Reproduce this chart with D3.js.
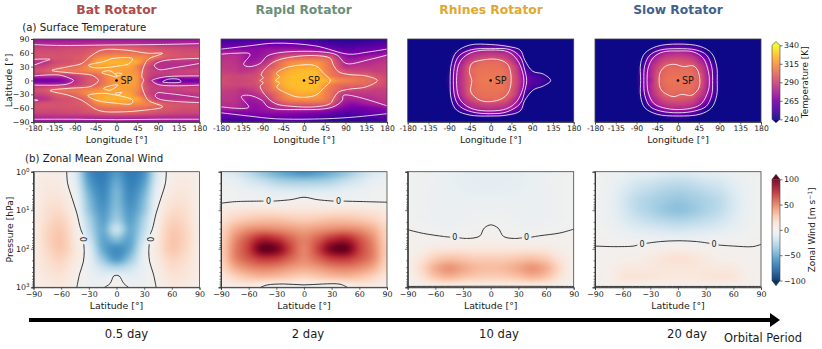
<!DOCTYPE html>
<html>
<head>
<meta charset="utf-8">
<script src="https://cdn.jsdelivr.net/npm/d3@7"></script>
<style>
  body { margin: 0; background: #fff; }
  text { font-family: "DejaVu Sans", sans-serif; fill: #1a1a1a; }
</style>
</head>
<body>
<script>
const titles = ['Bat Rotator', 'Rapid Rotator', 'Rhines Rotator', 'Slow Rotator'];
const titleColors = ['#b04a48', '#6a8f79', '#dfa82f', '#41628c'];
const titleCenters = [116.5, 303.7, 491, 678];
const periods = ['0.5 day', '2 day', '10 day', '20 day'];
const periodCenters = [126.5, 308, 499, 687];
const lonTicks = [-180, -135, -90, -45, 0, 45, 90, 135, 180];
const latTicks = [-90, -60, -30, 0, 30, 60, 90];
const tempTicks = [240, 265, 290, 315, 340];
const windTicks = [-100, -50, 0, 50, 100];

// surface temperature [K], rows are latitude 0,10..90, columns longitude -180,-165..180
const batTemp = [
  [262,262,262,264,267,274,283,290,296,298,305,312,316,318,318,315,296,283,270,260,257,258,262,262,262],
  [283,283,283,283,283,284,288,293,297,300,307,314,317,318,318,314,297,288,284,283,283,283,283,283,283],
  [293,294,297,301,304,305,306,308,310,312,316,319,319,318,316,312,298,289,287,286,287,288,289,290,291],
  [288,289,292,296,299,300,302,307,313,318,319,320,320,320,319,310,298,289,283,282,282,283,283,284,286],
  [283,283,285,291,293,294,296,299,306,318,322,323,323,323,322,320,308,296,284,283,283,283,283,283,284],
  [292,293,294,294,294,295,296,298,302,310,314,316,316,315,314,313,311,307,303,297,295,294,293,293,293],
  [293,293,293,293,293,294,294,295,298,301,303,304,305,305,305,304,302,300,299,296,295,294,293,293,293],
  [289,289,289,289,290,291,291,292,293,295,297,298,299,299,299,298,296,295,293,292,291,290,289,289,289],
  [280,280,280,281,281,281,281,281,281,282,282,282,282,282,282,282,281,281,281,280,280,280,280,280,280],
  [272,272,272,272,272,272,272,272,273,273,273,273,273,273,273,273,273,272,272,272,272,272,272,272,272]
];
const rapidTemp = [
  [292,291,290,290,291,294,301,305,318,322,325,326,326,326,325,323,318,312,309,307,305,303,301,295,292],
  [291,291,290,290,291,292,298,303,315,321,325,326,326,326,324,316,308,303,301,301,300,300,296,293,291],
  [288,287,286,283,285,288,295,301,309,317,322,324,325,325,323,312,305,300,293,291,290,290,288,288,288],
  [286,285,284,282,280,282,288,295,302,310,317,320,320,320,318,310,303,292,283,283,284,284,285,286,286],
  [284,284,283,279,274,276,280,288,299,306,311,313,314,314,313,308,301,289,278,278,279,280,281,283,284],
  [282,282,282,278,272,272,275,279,287,295,299,300,301,301,301,300,295,281,273,270,272,275,277,279,281],
  [277,278,278,276,272,270,272,275,278,281,282,283,283,283,282,279,276,270,265,263,263,264,266,268,272],
  [264,265,266,266,267,268,269,270,270,270,270,269,268,267,266,264,261,257,255,256,258,259,260,261,263],
  [256,256,257,257,258,258,259,260,260,260,260,259,258,256,255,253,251,250,249,249,250,251,252,254,255],
  [250,250,250,250,251,251,252,253,254,254,254,253,252,250,249,247,245,245,245,245,245,246,247,248,250]
];
const rhinesTemp = [
  [240,240,240,240,240,240,246,274,286,299,305,307,307,307,305,298,286,268,256,253,248,241,240,240,240],
  [240,240,240,240,240,240,245,273,286,298,304,306,306,306,304,298,285,264,254,250,243,240,240,240,240],
  [240,240,240,240,240,240,244,272,285,300,304,305,305,305,304,296,283,258,246,241,240,240,240,240,240],
  [240,240,240,240,240,240,243,270,284,297,302,304,304,304,301,295,280,250,240,240,240,240,240,240,240],
  [240,240,240,240,240,240,241,262,279,290,298,301,302,302,298,288,272,245,240,240,240,240,240,240,240],
  [240,240,240,240,240,240,240,253,273,283,288,291,292,291,288,281,270,241,240,240,240,240,240,240,240],
  [240,240,240,240,240,240,240,246,260,276,280,282,283,282,280,275,260,240,240,240,240,240,240,240,240],
  [240,240,240,240,240,240,240,240,242,252,263,268,270,268,262,254,242,240,240,240,240,240,240,240,240],
  [240,240,240,240,240,240,240,240,240,240,241,243,244,243,241,240,240,240,240,240,240,240,240,240,240],
  [240,240,240,240,240,240,240,240,240,240,240,240,240,240,240,240,240,240,240,240,240,240,240,240,240]
];
const slowTemp = [
  [240,240,240,240,240,240,241,263,276,295,303,305,305,305,303,298,283,265,243,240,240,240,240,240,240],
  [240,240,240,240,240,240,241,262,279,294,302,304,304,304,303,298,282,263,242,240,240,240,240,240,240],
  [240,240,240,240,240,240,240,261,278,292,300,303,303,303,302,294,280,262,241,240,240,240,240,240,240],
  [240,240,240,240,240,240,240,253,277,289,299,301,300,300,300,290,278,258,240,240,240,240,240,240,240],
  [240,240,240,240,240,240,240,247,273,283,292,295,296,295,292,283,272,250,240,240,240,240,240,240,240],
  [240,240,240,240,240,240,240,241,267,278,285,288,289,288,285,277,262,241,240,240,240,240,240,240,240],
  [240,240,240,240,240,240,240,240,247,265,276,279,280,279,275,262,246,240,240,240,240,240,240,240,240],
  [240,240,240,240,240,240,240,240,241,250,258,263,265,263,258,251,241,240,240,240,240,240,240,240,240],
  [240,240,240,240,240,240,240,240,240,240,242,246,248,246,242,240,240,240,240,240,240,240,240,240,240],
  [240,240,240,240,240,240,240,240,240,240,240,240,240,240,240,240,240,240,240,240,240,240,240,240,240]
];

// zonal wind [m/s], rows are log10(p) 0,0.25..3, columns |latitude| 0,15..90
const batWind = [
  [-58,-70,-60,-14,3,6,2],
  [-52,-68,-55,-11,5,8,3],
  [-47,-65,-48,-6,8,10,3],
  [-45,-62,-42,-2,12,12,4],
  [-42,-58,-38,1,16,15,5],
  [-35,-54,-30,5,21,17,6],
  [-22,-50,-25,8,25,20,6],
  [-42,-52,-18,10,27,21,7],
  [-62,-50,-10,12,26,19,6],
  [-58,-38,-7,9,21,16,6],
  [-28,-20,-6,6,16,13,6],
  [-3,-8,-4,4,12,10,5],
  [2,-3,-3,1,9,7,3]
];
const rapidWind = [
  [-60,-55,-48,-38,-25,-15,-10],
  [-35,-34,-30,-22,-15,-8,-4],
  [-14,-13,-12,-8,-6,-3,-2],
  [1,0,-1,-1,-1,-1,0],
  [12,12,13,14,13,11,7],
  [25,27,30,30,27,22,13],
  [40,44,48,50,46,36,20],
  [50,60,75,80,64,46,22],
  [50,68,95,100,70,50,24],
  [48,58,70,72,62,48,22],
  [38,42,48,50,46,36,18],
  [20,24,28,30,27,20,9],
  [-4,-4,-4,-1,6,5,3]
];
const rhinesWind = [
  [-10,-10,-8,-6,-5,-3,-2],
  [-10,-9,-8,-6,-4,-3,-2],
  [-8,-8,-7,-6,-5,-3,-2],
  [-5,-5,-6,-6,-5,-3,-2],
  [-4,-4,-5,-6,-5,-3,-2],
  [-2,-3,-4,-5,-4,-3,-2],
  [0,-1,-2,-3,-2,-1,0],
  [3,2,2,1,1,1,1],
  [10,10,11,11,10,4,2],
  [24,24,27,29,24,12,3],
  [30,32,38,44,36,18,3],
  [22,23,27,32,26,12,2],
  [2,2,2,2,2,1,0]
];
const slowWind = [
  [-15,-13,-10,-8,-5,-3,-1],
  [-24,-22,-18,-15,-9,-4,-2],
  [-32,-30,-26,-21,-13,-5,-2],
  [-38,-35,-31,-26,-16,-6,-2],
  [-40,-37,-31,-25,-15,-6,-2],
  [-30,-28,-24,-19,-12,-5,-2],
  [-18,-16,-14,-11,-7,-3,-1],
  [-5,-5,-4,-3,-2,-1,0],
  [5,4,2,1,1,0,0],
  [14,12,8,4,3,1,1],
  [11,11,10,9,8,3,1],
  [9,9,11,12,11,4,2],
  [0,0,0,0,0,0,0]
];

// white temperature contours, [lon, lat]
const batOpen = [
  [[-180,78],[-126,76],[-17,77],[91,78],[180,80]],
  [[-180,-84],[-90,-84],[0,-85],[90,-84],[180,-84]],
  [[-180,46],[-144,46],[-158,41],[-180,33]],
  [[-180,-41],[-170,-43],[-180,-44]],
  [[-180,10],[-126,12],[-104,6],[-93,0],[-104,-7],[-126,-10],[-180,-10]],
  [[180,48],[98,42],[82,33],[91,24],[127,28],[180,37]],
  [[180,-37],[110,-28],[88,-27],[84,-34],[95,-41],[180,-48]],
  [[180,10],[106,8],[80,2],[77,0],[91,-9],[180,-10]]
];
const batClosed = [
  [[-140,22],[-104,30],[-75,37],[-57,52],[-32,66],[19,66],[69,59],[100,59],[69,46],[59,30],[55,8],[59,1],[55,-9],[59,-25],[69,-43],[100,-57],[55,-65],[12,-68],[-39,-65],[-75,-43],[-104,-32],[-144,-22],[-104,-17],[-61,-14],[-50,-10],[-39,0],[-50,10],[-61,13],[-104,17]],
  [[-61,33],[-28,41],[-7,48],[35,47],[26,36],[8,32],[-25,28],[-50,28]],
  [[-32,17],[-14,21],[1,8],[-17,12]],
  [[-3,15],[12,15],[4,10]],
  [[-62,-33],[-39,-28],[-10,-30],[35,-43],[33,-50],[-3,-49],[-43,-43]],
  [[-28,-17],[-7,-10],[3,-10],[-14,-21]],
  [[-3,-28],[12,-26],[1,-32]],
  [[100,-3],[113,3],[136,2],[140,-3]]
];
const rapidOpen = [
  [[-180,68],[-120,75],[-62,81],[25,75],[97,57],[134,61],[180,68]],
  [[-180,-70],[-120,-77],[-62,-83],[46,-83],[112,-79],[180,-72]],
  [[-180,57],[-150,59],[-117,57],[-131,35],[-120,30],[-95,37],[-80,53],[-48,61],[39,62],[72,55],[86,40],[97,36],[140,45],[180,55]],
  [[-180,-57],[-120,-58],[-136,-35],[-120,-32],[-91,-43],[-77,-58],[-12,-63],[61,-58],[83,-43],[86,-32],[180,-55]]
];
const rapidClosed = [
  [[-95,0],[-88,6],[-93,12],[-84,26],[-62,42],[-26,51],[25,54],[57,48],[64,33],[75,19],[97,13],[134,10],[159,0],[134,-14],[97,-19],[75,-25],[64,-39],[57,-50],[25,-57],[-26,-56],[-62,-50],[-84,-32],[-95,-12],[-88,-5]],
  [[-62,0],[-53,8],[-60,15],[-44,26],[-12,33],[25,32],[43,15],[57,0],[43,-16],[25,-32],[-12,-36],[-41,-26],[-59,-14],[-53,-5]]
];
const rhinesClosed = [
  [[-88,0],[-85,37],[-74,62],[-45,77],[0,78],[42,73],[64,66],[74,44],[91,20],[114,14],[130,0],[114,-12],[93,-20],[74,-43],[64,-66],[35,-75],[0,-77],[-45,-75],[-74,-64],[-85,-43]],
  [[-81,0],[-77,37],[-67,55],[-41,67],[0,69],[42,67],[64,51],[74,22],[78,0],[74,-22],[64,-50],[35,-68],[0,-72],[-41,-68],[-67,-56],[-77,-39]],
  [[-74,0],[-70,33],[-59,50],[-38,62],[0,66],[38,62],[58,44],[69,19],[72,0],[69,-20],[56,-46],[35,-61],[0,-66],[-38,-62],[-59,-50],[-70,-34]],
  [[-41,0],[-46,19],[-41,37],[-20,44],[13,46],[35,37],[43,19],[42,-17],[31,-35],[6,-45],[-23,-43],[-43,-25]]
];
const slowClosed = [
  [[-81,0],[-81,37],[-72,59],[-46,74],[0,79],[48,74],[73,59],[84,30],[85,0],[84,-32],[73,-59],[48,-73],[0,-77],[-46,-73],[-72,-59],[-81,-35]],
  [[-74,0],[-72,33],[-61,55],[-39,66],[0,69],[40,66],[62,55],[73,30],[75,0],[73,-32],[61,-56],[37,-66],[0,-70],[-39,-66],[-61,-56],[-72,-32]],
  [[-67,0],[-64,30],[-52,51],[-32,62],[0,64],[33,62],[55,48],[66,19],[68,0],[66,-21],[51,-50],[33,-59],[0,-63],[-32,-59],[-52,-50],[-64,-28]],
  [[-41,0],[-38,19],[-25,32],[-7,35],[12,30],[33,32],[44,19],[46,-14],[30,-32],[8,-30],[-10,-35],[-32,-25],[-39,-15]]
];

// zero wind contours, [lat, p], split where the label sits
const batZero = [
  [[-54,1],[-53,2],[-48,5],[-43,12],[-39,30],[-36.5,42]],
  [[-35.5,76],[-35,120],[-36,220],[-40,450],[-43,1000]],
  [[54,1],[53,2],[48,5],[43,12],[39,30],[36.5,42]],
  [[35.5,76],[35,120],[36,220],[40,450],[43,1000]],
  [[-13,1000],[-7,800],[-3,510],[0,490],[3,510],[8,800],[13,1000]]
];
const rapidZero = [
  [[-90,6.6],[-75,6],[-44,5.8]],
  [[-33,5.8],[-14,5.3],[0,4.6],[14,5.3],[32,5.8]],
  [[43,5.8],[68,6],[90,6.2]],
  [[-47,1000],[-40,870],[-22,820],[0,866],[21,820],[39,830],[47,1000]]
];
const rhinesZero = [
  [[-90,32],[-73,40],[-51,48],[-44,50]],
  [[-34,52],[-25,54],[-12,47],[-7,29],[0,24],[8,29],[14,48],[26,54],[34,52]],
  [[44,50],[53,46],[75,39],[90,31]],
  [[-90,950],[0,940],[90,950]]
];
const slowZero = [
  [[-90,85],[-70,88],[-48,85],[-44,80]],
  [[-34,72],[-19,65],[0,62],[20,65],[34,72]],
  [[44,80],[60,85],[81,88],[90,77]],
  [[-90,950],[0,950],[90,950]]
];
const zeroLabels = [
  [[-36,57,90],[36,57,90]],
  [[-38.5,5.8,0],[37.5,5.8,0]],
  [[-39,50,0],[39,50,0]],
  [[-39,75,0],[39,75,0]]
];

const temps = [batTemp, rapidTemp, rhinesTemp, slowTemp];
const winds = [batWind, rapidWind, rhinesWind, slowWind];
const openLines = [batOpen, rapidOpen, [], []];
const closedLines = [batClosed, rapidClosed, rhinesClosed, slowClosed];
const zeroLines = [batZero, rapidZero, rhinesZero, slowZero];

const width = 822, height = 349;
const panelLeft = [33.5, 221, 407.7, 595];
const panelW = 166;
const top1 = 39, bot1 = 122, top2 = 171.7, bot2 = 287.3;

const svg = d3.select('body').append('svg')
    .attr('width', width)
    .attr('height', height)
    .style('display', 'block');

const tempColor = d3.scaleSequential(d3.interpolatePlasma).domain([240, 340]).clamp(true);
const windColor = d3.scaleSequential(t => d3.interpolateRdBu(1 - t)).domain([-100, 100]).clamp(true);

function cubic(a, b, c, d, t) {
  return b + 0.5 * t * (c - a + t * (2 * a - 5 * b + 4 * c - d + t * (3 * (b - c) + d - a)));
}

// sample the coarse table for shading, the way imshow does with a bicubic filter
function sample(grid, gx, gy) {
  const nx = grid[0].length - 1, ny = grid.length - 1;
  const ix = Math.floor(gx), iy = Math.floor(gy);
  const col = i => Math.max(0, Math.min(nx, Math.abs(i)));
  const row = i => Math.max(0, Math.min(ny, Math.abs(i)));
  const rows = [-1, 0, 1, 2].map(j => {
    const r = grid[row(iy + j)];
    return cubic(r[col(ix - 1)], r[col(ix)], r[col(ix + 1)], r[col(ix + 2)], gx - ix);
  });
  return cubic(rows[0], rows[1], rows[2], rows[3], gy - iy);
}

function shade(g, w, h, color, valueAt) {
  const canvas = document.createElement('canvas');
  canvas.width = Math.round(w * 2);
  canvas.height = Math.round(h * 2);
  const ctx = canvas.getContext('2d');
  for (let i = 0; i < canvas.width; i++) {
    for (let j = 0; j < canvas.height; j++) {
      ctx.fillStyle = color(valueAt((i + 0.5) / 2, (j + 0.5) / 2));
      ctx.fillRect(i, j, 1, 1);
    }
  }
  g.append('image')
      .attr('width', w)
      .attr('height', h)
      .attr('preserveAspectRatio', 'none')
      .attr('href', canvas.toDataURL());
}

function styleAxis(sel, size) {
  sel.selectAll('text').attr('font-size', size || 7.9).style('fill', '#1a1a1a');
  sel.selectAll('line').attr('stroke', '#333').attr('stroke-width', 0.7);
  sel.selectAll('path').attr('stroke', '#333').attr('stroke-width', 0.8);
}

const fmtMinus = d => String(d).replace('-', '\u2212');

// (a) surface temperature row
temps.forEach((grid, i) => {
  const w = panelW, h = bot1 - top1;
  const g = svg.append('g').attr('transform', `translate(${panelLeft[i]},${top1})`);
  const x = d3.scaleLinear().domain([-180, 180]).range([0, w]);
  const y = d3.scaleLinear().domain([90, -90]).range([0, h]);

  shade(g, w, h, tempColor, (px, py) =>
    sample(grid, (x.invert(px) + 180) / 15, Math.abs(y.invert(py)) / 10));

  const open = d3.line().x(d => x(d[0])).y(d => y(d[1])).curve(d3.curveCatmullRom.alpha(0.5));
  const closed = d3.line().x(d => x(d[0])).y(d => y(d[1])).curve(d3.curveCatmullRomClosed.alpha(0.5));
  const lines = g.append('g').attr('fill', 'none').attr('stroke', '#fff')
      .attr('stroke-width', 1).attr('stroke-opacity', 0.8);
  lines.selectAll('.o').data(openLines[i]).enter().append('path').attr('class', 'o').attr('d', open);
  lines.selectAll('.c').data(closedLines[i]).enter().append('path').attr('class', 'c').attr('d', closed);

  g.append('circle').attr('cx', x(0)).attr('cy', y(0)).attr('r', 1.3).attr('fill', '#000');
  g.append('text').attr('x', x(0) + 4).attr('y', y(0) + 3.4).attr('font-size', 9.6).text('SP');

  g.append('rect').attr('width', w).attr('height', h).attr('fill', 'none')
      .attr('stroke', '#444').attr('stroke-width', 0.8);

  const ax = g.append('g').attr('transform', `translate(0,${h})`)
      .call(d3.axisBottom(x).tickValues(lonTicks).tickSize(2.5).tickPadding(1.5).tickFormat(d => d));
  styleAxis(ax, 7.6);
  g.append('text').attr('x', w / 2).attr('y', h + 21).attr('text-anchor', 'middle')
      .attr('font-size', 9.4).text('Longitude [\u00b0]');

  if (i === 0) {
    const ay = g.append('g')
        .call(d3.axisLeft(y).tickValues(latTicks).tickSize(2.5).tickPadding(1.5).tickFormat(fmtMinus));
    styleAxis(ay);
    g.append('text').attr('transform', `translate(-21.5,${h / 2}) rotate(-90)`)
        .attr('text-anchor', 'middle').attr('font-size', 9.4).text('Latitude [\u00b0]');
  }
});

// (b) zonal mean zonal wind row
winds.forEach((grid, i) => {
  const w = panelW, h = bot2 - top2;
  const g = svg.append('g').attr('transform', `translate(${panelLeft[i]},${top2})`);
  const x = d3.scaleLinear().domain([-90, 90]).range([0, w]);
  const y = d3.scaleLog().domain([1, 1000]).range([0, h]);

  shade(g, w, h, windColor, (px, py) =>
    sample(grid, Math.abs(x.invert(px)) / 15, Math.log10(y.invert(py)) / 0.25));

  const line = d3.line().x(d => x(d[0])).y(d => y(d[1])).curve(d3.curveCatmullRom.alpha(0.5));
  g.append('g').attr('fill', 'none').attr('stroke', '#222').attr('stroke-width', 0.9)
      .selectAll('path').data(zeroLines[i]).enter().append('path').attr('d', line);

  g.selectAll('.zero').data(zeroLabels[i]).enter().append('text')
      .attr('class', 'zero')
      .attr('transform', d => `translate(${x(d[0])},${y(d[1])}) rotate(${d[2]})`)
      .attr('text-anchor', 'middle').attr('dy', '0.36em')
      .attr('font-size', 8).text('0');

  g.append('rect').attr('width', w).attr('height', h).attr('fill', 'none')
      .attr('stroke', '#444').attr('stroke-width', 0.8);

  const ax = g.append('g').attr('transform', `translate(0,${h})`)
      .call(d3.axisBottom(x).tickValues(latTicks).tickSize(2.5).tickPadding(1.5).tickFormat(fmtMinus));
  styleAxis(ax);
  g.append('text').attr('x', w / 2).attr('y', h + 21.5).attr('text-anchor', 'middle')
      .attr('font-size', 9.4).text('Latitude [\u00b0]');

  // log axis, minor ticks on all panels, labels only on the first
  const minor = d3.range(0, 3).flatMap(k => d3.range(2, 10).map(m => m * Math.pow(10, k)));
  const ay = g.append('g').call(d3.axisLeft(y).tickValues([1, 10, 100, 1000]).tickSize(2.5).tickPadding(1.5).tickFormat(''));
  styleAxis(ay);
  const am = g.append('g').call(d3.axisLeft(y).tickValues(minor).tickSize(1.4).tickFormat(''));
  styleAxis(am);

  if (i === 0) {
    [0, 1, 2, 3].forEach(k => {
      const t = g.append('text').attr('x', -4).attr('y', y(Math.pow(10, k)) + 3)
          .attr('text-anchor', 'end').attr('font-size', 7.9);
      t.append('tspan').text('10');
      t.append('tspan').attr('dy', -3).attr('font-size', 5.6).text(k);
    });
    g.append('text').attr('transform', `translate(-20.5,${h / 2}) rotate(-90)`)
        .attr('text-anchor', 'middle').attr('font-size', 9.2).text('Pressure [hPa]');
  }
});

// colorbars
function colorbar(color, domain, ticks, yTop, yBot, tipTop, tipBot, label, labelX, fmt) {
  const x0 = 772, barW = 8;
  const y = d3.scaleLinear().domain(domain).range([yBot, yTop]);
  const g = svg.append('g');
  g.selectAll('.s').data(d3.range(yTop, yBot, 0.5)).enter().append('rect')
      .attr('class', 's').attr('x', x0).attr('y', d => d).attr('width', barW).attr('height', 0.8)
      .attr('fill', d => color(y.invert(d + 0.25)));
  g.append('path').attr('d', `M${x0},${yTop}L${x0 + barW / 2},${tipTop}L${x0 + barW},${yTop}Z`)
      .attr('fill', color(domain[1]));
  g.append('path').attr('d', `M${x0},${yBot}L${x0 + barW / 2},${tipBot}L${x0 + barW},${yBot}Z`)
      .attr('fill', color(domain[0]));
  g.append('path')
      .attr('d', `M${x0},${yTop}L${x0 + barW / 2},${tipTop}L${x0 + barW},${yTop}V${yBot}L${x0 + barW / 2},${tipBot}L${x0},${yBot}Z`)
      .attr('fill', 'none').attr('stroke', '#444').attr('stroke-width', 0.6);
  const a = g.append('g').attr('transform', `translate(${x0 + barW},0)`)
      .call(d3.axisRight(y).tickValues(ticks).tickSize(2.5).tickPadding(1.5).tickFormat(fmt));
  styleAxis(a);
  a.select('.domain').remove();
  g.append('text').attr('transform', `translate(${labelX},${(yTop + yBot) / 2}) rotate(-90)`)
      .attr('text-anchor', 'middle').attr('font-size', 8.9).html(label);
}
colorbar(tempColor, [240, 340], tempTicks, 45.3, 119.3, 41.5, 122.8, 'Temperature [K]', 808, d => d);
colorbar(windColor, [-100, 100], windTicks, 179.3, 280.5, 174.3, 285.8,
  'Zonal Wind [m s<tspan dy="-3" font-size="6">\u22121</tspan><tspan dy="3">]</tspan>', 815, fmtMinus);

// headings
svg.selectAll('.title').data(titles).enter().append('text')
    .attr('class', 'title')
    .attr('x', (d, i) => titleCenters[i]).attr('y', 14)
    .attr('text-anchor', 'middle').attr('font-size', 12.3).attr('font-weight', 'bold')
    .style('fill', (d, i) => titleColors[i]).text(d => d);
svg.append('text').attr('x', 22.3).attr('y', 31).attr('font-size', 10.2).text('(a) Surface Temperature');
svg.append('text').attr('x', 25).attr('y', 162).attr('font-size', 10.2).text('(b) Zonal Mean Zonal Wind');

// orbital period arrow
svg.append('rect').attr('x', 29).attr('y', 318).attr('width', 742).attr('height', 4).attr('fill', '#000');
svg.append('path').attr('d', 'M770,313L780,320L770,327Z').attr('fill', '#000');
svg.selectAll('.period').data(periods).enter().append('text')
    .attr('class', 'period')
    .attr('x', (d, i) => periodCenters[i]).attr('y', 338)
    .attr('text-anchor', 'middle').attr('font-size', 11.6).text(d => d);
svg.append('text').attr('x', 763).attr('y', 342).attr('text-anchor', 'middle')
    .attr('font-size', 11.4).text('Orbital Period');
</script>
</body>
</html>
